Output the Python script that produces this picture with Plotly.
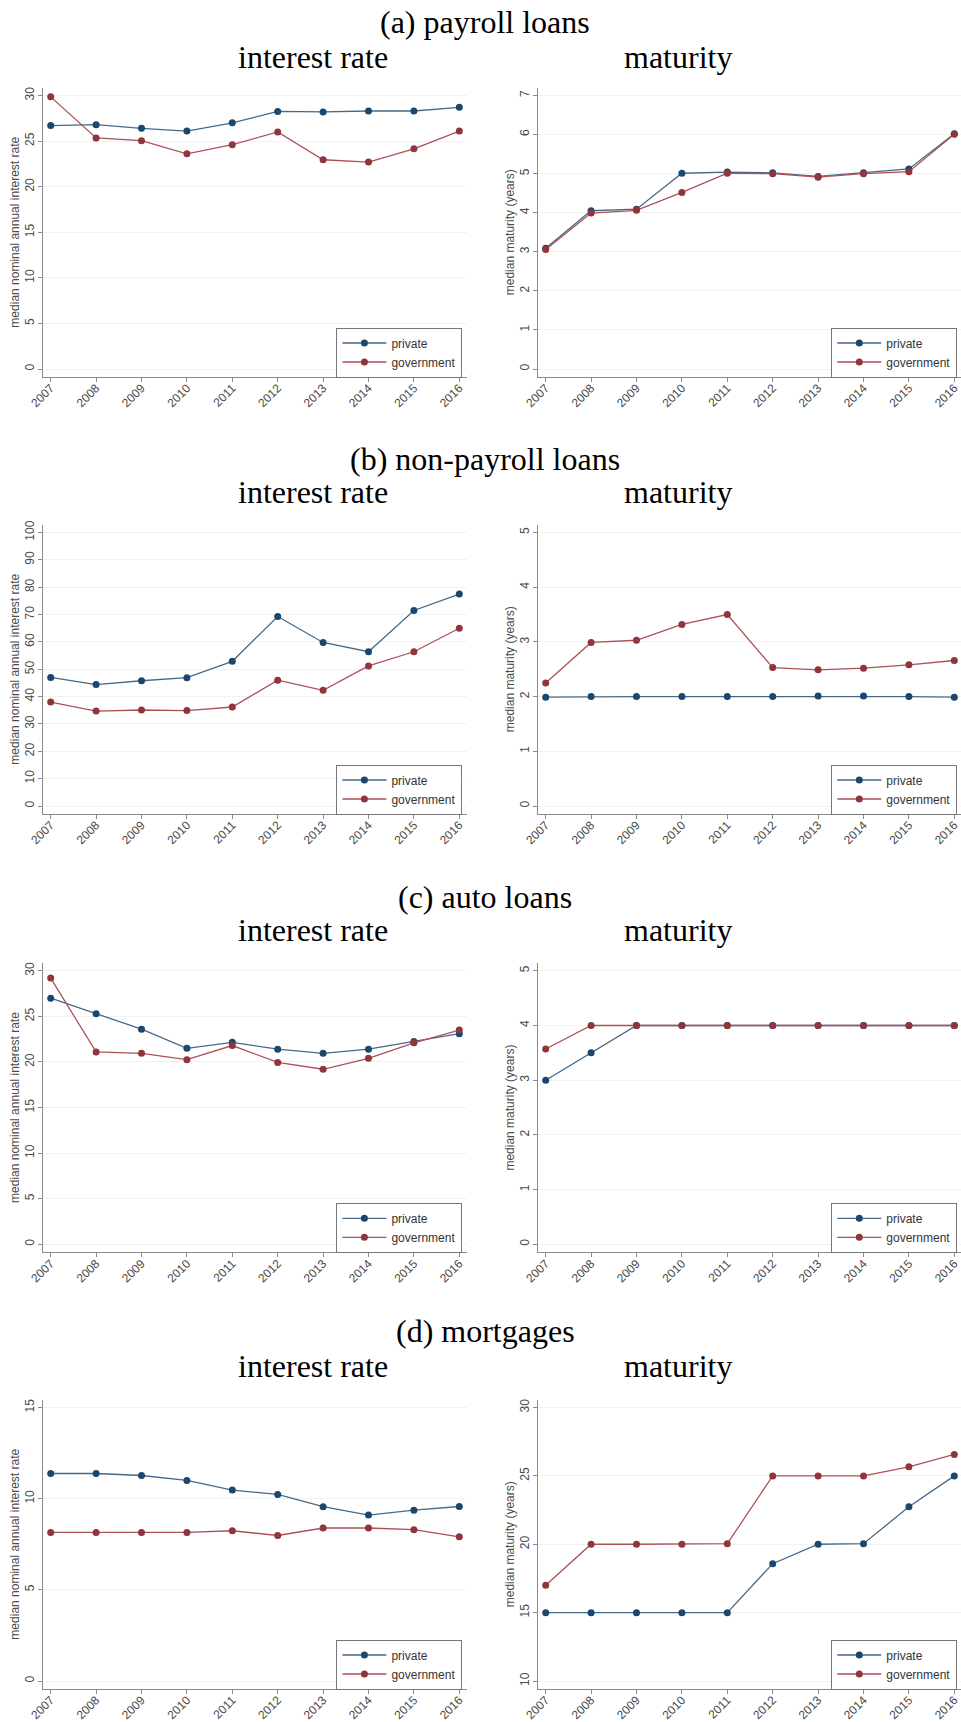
import plotly.graph_objects as go

# ---- data -----------------------------------------------------------------
years = [2007, 2008, 2009, 2010, 2011, 2012, 2013, 2014, 2015, 2016]

payroll_rate_private = [26.7, 26.8, 26.4, 26.1, 27.0, 28.25, 28.2, 28.3, 28.3, 28.7]
payroll_rate_government = [29.85, 25.35, 25.05, 23.6, 24.6, 26.0, 22.95, 22.7, 24.15, 26.1]
payroll_mat_private = [3.09, 4.05, 4.09, 5.01, 5.04, 5.02, 4.93, 5.02, 5.12, 6.02]
payroll_mat_government = [3.06, 3.99, 4.06, 4.52, 5.01, 5.0, 4.91, 5.0, 5.05, 6.01]

nonpayroll_rate_private = [47.0, 44.4, 45.8, 46.9, 52.9, 69.3, 59.8, 56.4, 71.5, 77.5]
nonpayroll_rate_government = [38.0, 34.7, 35.1, 34.9, 36.2, 46.0, 42.3, 51.2, 56.4, 65.0]
nonpayroll_mat_private = [1.99, 2.0, 2.0, 2.0, 2.0, 2.0, 2.01, 2.01, 2.0, 1.99]
nonpayroll_mat_government = [2.25, 2.99, 3.03, 3.32, 3.50, 2.53, 2.49, 2.52, 2.58, 2.66]

auto_rate_private = [27.0, 25.3, 23.6, 21.5, 22.15, 21.4, 20.95, 21.4, 22.25, 23.1]
auto_rate_government = [29.2, 21.1, 20.95, 20.25, 21.8, 19.95, 19.2, 20.4, 22.1, 23.5]
auto_mat_private = [3.0, 3.5, 4.0, 4.0, 4.0, 4.0, 4.0, 4.0, 4.0, 4.0]
auto_mat_government = [3.57, 4.0, 4.0, 4.0, 4.0, 4.0, 4.0, 4.0, 4.0, 4.0]

mortgage_rate_private = [11.38, 11.38, 11.27, 11.0, 10.47, 10.23, 9.56, 9.1, 9.37, 9.57]
mortgage_rate_government = [8.15, 8.15, 8.15, 8.15, 8.24, 7.98, 8.39, 8.39, 8.3, 7.91]
mortgage_mat_private = [15.0, 15.0, 15.0, 15.0, 15.0, 18.58, 20.0, 20.04, 22.74, 25.0]
mortgage_mat_government = [17.0, 20.0, 20.0, 20.0, 20.04, 25.0, 25.0, 25.0, 25.66, 26.57]

group_titles = ["(a) payroll loans", "(b) non-payroll loans", "(c) auto loans", "(d) mortgages"]
panel_titles = ["interest rate", "maturity"]
rate_label = "median nominal annual interest rate"
maturity_label = "median maturity (years)"
series_names = ["private", "government"]

# rows of (interest-rate pair, maturity pair)
rows = [
    ((payroll_rate_private, payroll_rate_government), (payroll_mat_private, payroll_mat_government)),
    ((nonpayroll_rate_private, nonpayroll_rate_government), (nonpayroll_mat_private, nonpayroll_mat_government)),
    ((auto_rate_private, auto_rate_government), (auto_mat_private, auto_mat_government)),
    ((mortgage_rate_private, mortgage_rate_government), (mortgage_mat_private, mortgage_mat_government)),
]

# y-axis tick extents (min, max, step) per panel
y_scales = [
    ((0, 30, 5), (0, 7, 1)),
    ((0, 100, 10), (0, 5, 1)),
    ((0, 30, 5), (0, 5, 1)),
    ((0, 15, 5), (10, 30, 5)),
]

# ---- layout geometry (pixels) ---------------------------------------------
W, H = 961, 1722
NAVY, MAROON = "#1a476f", "#90353b"
NAVY_LINE, MAROON_LINE = "#46698a", "#ad5158"
AXIS_GREY = "#8a8a8a"
TEXT_GREY = "#4a4a4a"
GRID = "#f1f1f1"

row_zero_px = [369.0, 806.0, 1244.3, 1681.0]       # pixel y of lowest tick
tick_span_px = 273.5                               # lowest to highest tick
pad_px = 7.5
title_base_px = [33.0, 470.0, 908.3, 1341.7]
sub_base_px = [67.7, 503.3, 940.7, 1377.3]

col_dom_px = [(43.3, 466.7), (538.3, 961.0)]
first_year_px = [50.7, 545.7]
px_per_year = (459.3 - 50.7) / 9


def fx(p):
    return p / W


def fy(p):
    return 1 - p / H


fig = go.Figure()
layout = dict(
    width=W, height=H,
    margin=dict(l=0, r=0, t=0, b=0),
    paper_bgcolor="white", plot_bgcolor="white",
    showlegend=True,
    annotations=[],
)

axis_font = dict(family="Liberation Sans, Arial, sans-serif", size=12, color=TEXT_GREY)
title_font = dict(family="Liberation Serif, Times New Roman, serif", size=32, color="black")

k = 0
for r, (pairs, scales) in enumerate(zip(rows, y_scales)):
    y0 = row_zero_px[r]
    top = y0 - tick_span_px - pad_px
    bottom = y0 + pad_px
    for c in range(2):
        k += 1
        sfx = "" if k == 1 else str(k)
        lo, hi, step = scales[c]
        upp = (hi - lo) / tick_span_px
        d0, d1 = col_dom_px[c]
        x_lo = 2007 - (first_year_px[c] - d0) / px_per_year
        x_hi = 2007 + (d1 - first_year_px[c]) / px_per_year

        layout["xaxis" + sfx] = dict(
            domain=[fx(d0), fx(d1)], range=[x_lo, x_hi], anchor="y" + sfx,
            tickmode="array", tickvals=years, ticktext=[str(y) for y in years],
            tickangle=-45, ticks="outside", ticklen=4, tickcolor=AXIS_GREY,
            ticklabelstandoff=-5,
            showline=True, linecolor=AXIS_GREY, linewidth=1,
            showgrid=False, zeroline=False, tickfont=axis_font, automargin=False,
        )
        layout["yaxis" + sfx] = dict(
            domain=[fy(bottom), fy(top)], range=[lo - pad_px * upp, hi + pad_px * upp],
            anchor="x" + sfx, tick0=lo, dtick=step, tickangle=-90,
            ticks="outside", ticklen=4, tickcolor=AXIS_GREY,
            showline=True, linecolor=AXIS_GREY, linewidth=1,
            showgrid=True, gridcolor=GRID, gridwidth=1, zeroline=False,
            tickfont=axis_font, automargin=False,
            title=dict(text=rate_label if c == 0 else maturity_label,
                       font=axis_font, standoff=0),
        )

        leg = "legend" if k == 1 else "legend" + str(k)
        legend_right = d1 - 4.3 if c == 0 else 957.3
        layout[leg] = dict(
            x=fx(legend_right), xanchor="right",
            y=fy(bottom + 1), yanchor="bottom",
            bgcolor="white", bordercolor="#777777", borderwidth=1,
            font=dict(family="Liberation Sans, Arial, sans-serif", size=12, color="#333333"),
            itemwidth=44, tracegroupgap=0,
        )

        for name, vals, mcol, lcol in zip(series_names, pairs[c],
                                          (NAVY, MAROON), (NAVY_LINE, MAROON_LINE)):
            fig.add_trace(go.Scatter(
                x=years, y=vals, name=name, mode="lines+markers",
                line=dict(color=lcol, width=1.3),
                marker=dict(color=mcol, size=7),
                xaxis="x" + sfx, yaxis="y" + sfx, legend=leg,
            ))

    # group heading and panel headings
    layout["annotations"].append(dict(
        text=group_titles[r], x=fx(485), y=fy(title_base_px[r] - 11),
        xref="paper", yref="paper", xanchor="center", yanchor="middle",
        showarrow=False, font=title_font,
    ))
    for c, cx in enumerate((313.3, 677.7)):
        layout["annotations"].append(dict(
            text=panel_titles[c], x=fx(cx), y=fy(sub_base_px[r] - 11),
            xref="paper", yref="paper", xanchor="center", yanchor="middle",
            showarrow=False, font=title_font,
        ))

fig.update_layout(**layout)
fig.write_html("out.html")
